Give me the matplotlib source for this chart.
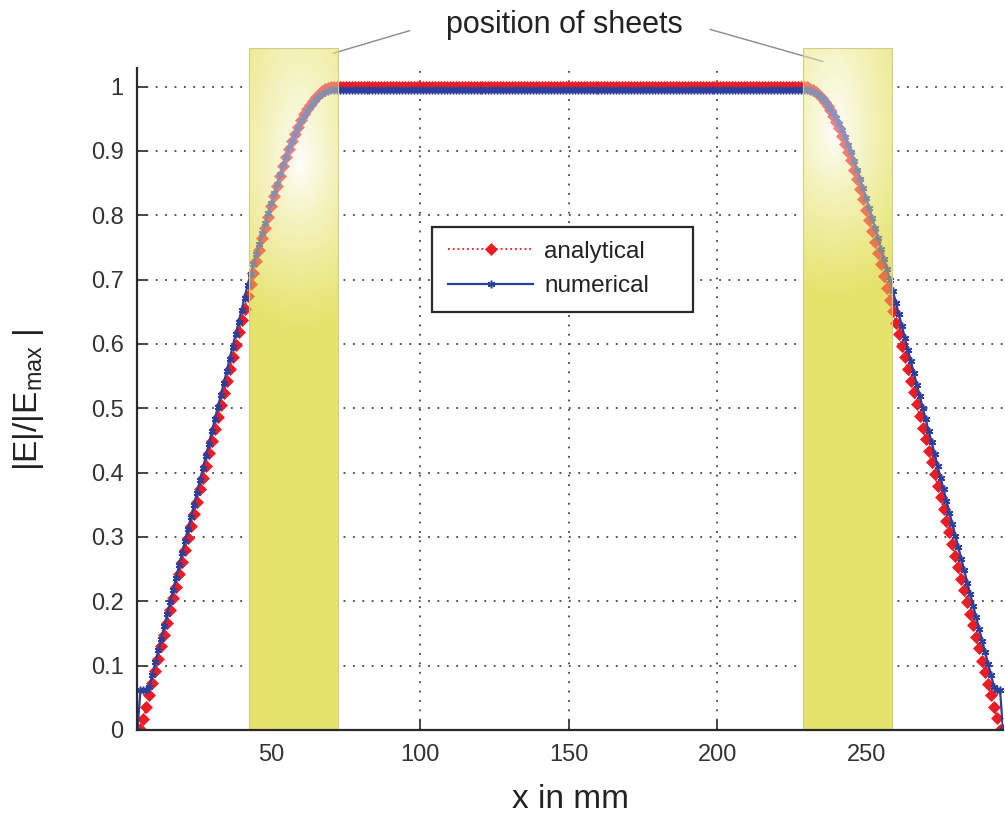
import numpy as np
import matplotlib
matplotlib.use('Agg')
import matplotlib.pyplot as plt
from matplotlib.patches import Rectangle

plt.rcParams['font.family'] = ['Liberation Sans', 'DejaVu Sans']
plt.rcParams['mathtext.default'] = 'regular'

# |E|/|Emax| sampled every 1 mm, starting at x = 5 mm
x_start = 5

# analytical: x = 5..70, then flat up to 228, then x = 229..296
analytical_left = [
    0.000, 0.002, 0.017, 0.036, 0.054, 0.073, 0.092, 0.111, 0.130, 0.148,
    0.167, 0.186, 0.205, 0.223, 0.242, 0.261, 0.280, 0.299, 0.317, 0.336,
    0.355, 0.374, 0.392, 0.411, 0.430, 0.449, 0.468, 0.486, 0.505, 0.524,
    0.543, 0.561, 0.580, 0.599, 0.618, 0.637, 0.655, 0.674, 0.693, 0.711,
    0.729, 0.746, 0.764, 0.781, 0.798, 0.814, 0.830, 0.846, 0.861, 0.876,
    0.890, 0.903, 0.915, 0.927, 0.938, 0.948, 0.957, 0.965, 0.972, 0.978,
    0.984, 0.989, 0.993, 0.996, 0.998, 0.999,
]
analytical_flat = 1.0
analytical_flat_count = 158
analytical_right = [
    1.000, 0.999, 0.997, 0.995, 0.992, 0.987, 0.982, 0.976, 0.970, 0.963,
    0.954, 0.945, 0.935, 0.923, 0.911, 0.899, 0.886, 0.871, 0.856, 0.841,
    0.825, 0.809, 0.793, 0.776, 0.759, 0.741, 0.724, 0.706, 0.687, 0.669,
    0.651, 0.633, 0.615, 0.597, 0.579, 0.561, 0.543, 0.525, 0.506, 0.488,
    0.470, 0.452, 0.434, 0.416, 0.398, 0.380, 0.362, 0.344, 0.325, 0.307,
    0.289, 0.271, 0.253, 0.235, 0.217, 0.199, 0.181, 0.163, 0.145, 0.127,
    0.108, 0.090, 0.072, 0.054, 0.036, 0.018, 0.000, 0.000,
]

# numerical: x = 5..71, then flat up to 228, then x = 229..296
numerical_left = [
    0.000, 0.062, 0.062, 0.062, 0.067, 0.086, 0.105, 0.124, 0.142, 0.161,
    0.180, 0.199, 0.218, 0.237, 0.256, 0.275, 0.294, 0.313, 0.331, 0.350,
    0.369, 0.388, 0.407, 0.426, 0.445, 0.464, 0.483, 0.502, 0.520, 0.539,
    0.558, 0.577, 0.596, 0.615, 0.634, 0.653, 0.672, 0.691, 0.708, 0.724,
    0.740, 0.756, 0.772, 0.788, 0.804, 0.819, 0.834, 0.849, 0.864, 0.878,
    0.891, 0.904, 0.916, 0.927, 0.937, 0.946, 0.955, 0.962, 0.969, 0.975,
    0.980, 0.985, 0.988, 0.991, 0.993, 0.994, 0.995,
]
numerical_flat = 0.995
numerical_flat_count = 157
numerical_right = [
    0.995, 0.995, 0.994, 0.992, 0.990, 0.987, 0.983, 0.978, 0.972, 0.966,
    0.959, 0.951, 0.942, 0.932, 0.922, 0.910, 0.898, 0.885, 0.871, 0.857,
    0.842, 0.827, 0.812, 0.796, 0.780, 0.764, 0.748, 0.732, 0.716, 0.700,
    0.682, 0.664, 0.646, 0.628, 0.610, 0.591, 0.573, 0.555, 0.537, 0.519,
    0.501, 0.483, 0.465, 0.447, 0.429, 0.410, 0.392, 0.374, 0.356, 0.338,
    0.320, 0.302, 0.284, 0.266, 0.248, 0.229, 0.211, 0.193, 0.175, 0.157,
    0.139, 0.121, 0.103, 0.085, 0.067, 0.062, 0.062, 0.000,
]

# sheets (mm)
sheet_starts = [42.5, 228.8]
sheet_width = 30.0
sheet_top = 1.06
sheet_glow = [(0.57, 0.88), (0.35, 0.93)]   # highlight centre (fraction of width, y)

x_ticks = [50, 100, 150, 200, 250]
y_ticks = [0, 0.1, 0.2, 0.3, 0.4, 0.5, 0.6, 0.7, 0.8, 0.9, 1.0]
y_tick_labels = ['0', '0.1', '0.2', '0.3', '0.4', '0.5', '0.6', '0.7', '0.8', '0.9', '1']

analytical = analytical_left + [analytical_flat] * analytical_flat_count + analytical_right
numerical = numerical_left + [numerical_flat] * numerical_flat_count + numerical_right
x_an = np.arange(x_start, x_start + len(analytical))
x_num = np.arange(x_start, x_start + len(numerical))

fig = plt.figure(figsize=(10.05, 8.18), dpi=100)
ax = fig.add_axes([0.1368, 0.1076, 0.8612, 0.8093])

red = '#ec1c24'
blue = '#2c3f9c'
yellow = np.array([0.902, 0.890, 0.420])


def sheet_image(cx, cy):
    # white glow fading into yellow, for one sheet
    gx = np.linspace(0, 1, 80)
    gy = np.linspace(0, sheet_top, 240)
    X, Y = np.meshgrid(gx, gy)
    ry = np.where(Y > cy, 0.45, 0.26)
    d = np.sqrt(((X - cx) / 1.1) ** 2 + ((Y - cy) / ry) ** 2)
    t = np.clip(d, 0, 1) ** 0.8
    img = np.ones((len(gy), len(gx), 4))
    for k in range(3):
        img[:, :, k] = 1 - t * (1 - yellow[k])
    return img


line_an, = ax.plot(x_an, analytical, linestyle=':', color=red, lw=1.3,
                   marker='D', markersize=5.8, markeredgewidth=0.5, zorder=3)
line_num, = ax.plot(x_num, numerical, linestyle='-', color=blue, lw=1.6,
                    marker=(6, 2, 0), markersize=5.5, markeredgewidth=1.1, zorder=4)

for x0, (cx, cy) in zip(sheet_starts, sheet_glow):
    img = sheet_image(cx, cy)
    ext = (x0, x0 + sheet_width, 0, sheet_top)
    # opaque underlay below the lines, translucent overlay on top of them
    under = ax.imshow(img, extent=ext, origin='lower', aspect='auto',
                      interpolation='bilinear', zorder=1)
    under.set_clip_on(False)
    over_img = img.copy()
    over_img[:, :, 3] = 0.45
    over = ax.imshow(over_img, extent=ext, origin='lower', aspect='auto',
                     interpolation='bilinear', zorder=5)
    over.set_clip_on(False)
    ax.add_patch(Rectangle((x0, 0), sheet_width, sheet_top, fill=False,
                           edgecolor='#cfcd8c', lw=0.8, zorder=5, clip_on=False))

ax.set_xlim(5, 296)
ax.set_ylim(0, 1.029)
ax.set_xticks(x_ticks)
ax.set_yticks(y_ticks)
ax.set_yticklabels(y_tick_labels)

ax.grid(True, color='#444444', linestyle=(0, (1, 4.2)), lw=1.3)
ax.set_axisbelow(True)

for side in ['top', 'right']:
    ax.spines[side].set_visible(False)
for side in ['left', 'bottom']:
    ax.spines[side].set_color('#2a2a2a')
    ax.spines[side].set_linewidth(1.6)
    ax.spines[side].set_zorder(6)

ax.tick_params(direction='in', length=7, width=1.2, color='#2a2a2a',
               labelsize=17, labelcolor='#333333', pad=10)

fig.text(570 / 1005, 1 - 808 / 818, 'x in mm', fontsize=24, color='#222222',
         ha='center', va='baseline')
fig.text(28 / 1005, 1 - 400 / 818, r'|E|/|E$_{max}$ |', fontsize=24,
         color='#222222', rotation=90, ha='center', va='center')

# "position of sheets" callout
ax.text(148.6, 1.084, 'position of sheets', fontsize=22, color='#222222',
        ha='center', va='baseline', clip_on=False)
ax.annotate('', xy=(70.9, 1.052), xytext=(96.5, 1.087), annotation_clip=False,
            arrowprops=dict(arrowstyle='-', color='#8a8a8a', lw=1.0,
                            shrinkA=0, shrinkB=0))
ax.annotate('', xy=(235.5, 1.039), xytext=(197.5, 1.089), annotation_clip=False,
            arrowprops=dict(arrowstyle='-', color='#8a8a8a', lw=1.0,
                            shrinkA=0, shrinkB=0))

# legend box drawn separately to get the wide MATLAB style frame
box = Rectangle((432 / 1005, 1 - 312 / 818), 261 / 1005, 85 / 818,
                transform=fig.transFigure, facecolor='white',
                edgecolor='#2a2a2a', lw=1.6, zorder=6)
fig.add_artist(box)
leg = fig.legend([line_an, line_num], ['analytical', 'numerical'],
                 loc='center left', bbox_to_anchor=(436 / 1005, 1 - 269 / 818),
                 bbox_transform=fig.transFigure, frameon=False, borderpad=0,
                 handlelength=3.5, handletextpad=0.45, labelspacing=0.5,
                 fontsize=17.5, numpoints=1)
leg.set_zorder(7)
for t in leg.get_texts():
    t.set_color('#222222')

fig.savefig('out.png', dpi=100)
